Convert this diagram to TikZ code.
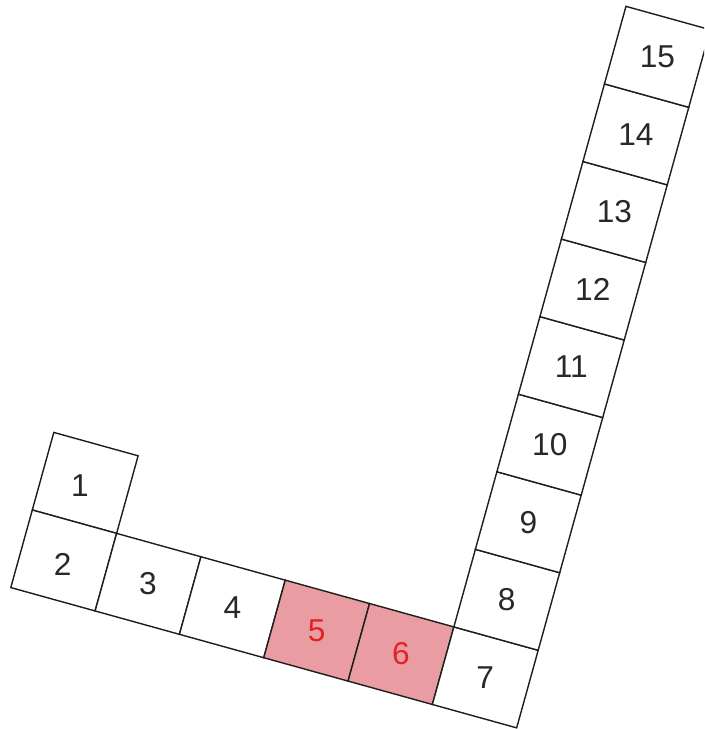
\documentclass[tikz,border=0pt]{standalone}
\usepackage{fontspec}
\setmainfont{Liberation Sans}
\begin{document}
\begin{tikzpicture}
  % Colores
  \definecolor{linecolor}{RGB}{30,30,30}
  \definecolor{numcolor}{RGB}{40,40,40}
  \definecolor{markfill}{RGB}{233,157,162}
  \definecolor{marktext}{RGB}{225,35,35}

  % Estilos de celdas y numeros
  \tikzset{
    cellbox/.style={draw=linecolor, line width=0.8pt, fill=white},
    markbox/.style={cellbox, fill=markfill},
    num/.style={text=numcolor, font=\fontsize{18}{18}\selectfont},
    marknum/.style={num, text=marktext}
  }

  % Marco de la imagen
  \useasboundingbox (0,0) rectangle (14.08,14.58);
  \clip (0,0) rectangle (14.08,14.58);

  \begin{scope}[shift={(0.646,4.38)}, rotate=-15.5, x=1.75cm, y=1.61cm]
    % Celda suelta arriba a la izquierda
    \draw[cellbox] (0,0) rectangle (1,1);
    \node[num] (c1) at (0.45,0.45) {1};

    % Fila inferior
    \draw[cellbox] (0,-1) rectangle (1,0);
    \node[num] (c2) at (0.5,-0.55) {2};
    \draw[cellbox] (1,-1) rectangle (2,0);
    \node[num] (c3) at (1.5,-0.5) {3};
    \draw[cellbox] (2,-1) rectangle (3,0);
    \node[num] (c4) at (2.5,-0.5) {4};
    \draw[markbox] (3,-1) rectangle (4,0);
    \node[marknum] (c5) at (3.5,-0.5) {5};
    \draw[markbox] (4,-1) rectangle (5,0);
    \node[marknum] (c6) at (4.5,-0.5) {6};
    \draw[cellbox] (5,-1) rectangle (6,0);
    \node[num] (c7) at (5.5,-0.5) {7};

    % Columna derecha
    \draw[cellbox] (5,0) rectangle (6,1);
    \node[num] (c8) at (5.5,0.5) {8};
    \draw[cellbox] (5,1) rectangle (6,2);
    \node[num] (c9) at (5.5,1.5) {9};
    \draw[cellbox] (5,2) rectangle (6,3);
    \node[num] (c10) at (5.5,2.5) {10};
    \draw[cellbox] (5,3) rectangle (6,4);
    \node[num] (c11) at (5.5,3.5) {11};
    \draw[cellbox] (5,4) rectangle (6,5);
    \node[num] (c12) at (5.5,4.5) {12};
    \draw[cellbox] (5,5) rectangle (6,6);
    \node[num] (c13) at (5.5,5.5) {13};
    \draw[cellbox] (5,6) rectangle (6,7);
    \node[num] (c14) at (5.5,6.5) {14};
    \draw[cellbox] (5,7) rectangle (6,8);
    \node[num] (c15) at (5.5,7.5) {15};
  \end{scope}
\end{tikzpicture}
\end{document}
